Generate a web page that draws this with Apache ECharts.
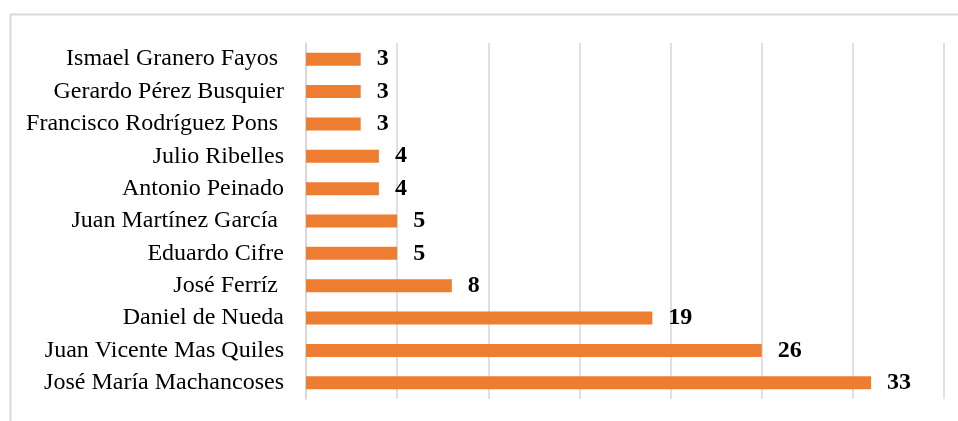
<!DOCTYPE html>
<html>
<head>
<meta charset="utf-8">
<script src="https://cdn.jsdelivr.net/npm/echarts@6/dist/echarts.min.js"></script>
<style>
  html, body { margin: 0; padding: 0; background: #fff; }
  #chart { width: 958px; height: 421px; }
</style>
</head>
<body>
<div id="chart"></div>
<script>
// top to bottom
var categories = [
    'Ismael Granero Fayos ',
    'Gerardo Pérez Busquier',
    'Francisco Rodríguez Pons ',
    'Julio Ribelles',
    'Antonio Peinado',
    'Juan Martínez García ',
    'Eduardo Cifre',
    'José Ferríz ',
    'Daniel de Nueda',
    'Juan Vicente Mas Quiles',
    'José María Machancoses'
];
// bar lengths as drawn against the gridlines
var barValues = [3, 3, 3, 4, 4, 5, 5, 8, 19, 25, 31];
// numbers printed next to the bars
var labelValues = [3, 3, 3, 4, 4, 5, 5, 8, 19, 26, 33];
var axisTicks = { min: 0, max: 35, interval: 5 };

var chart = echarts.init(document.getElementById('chart'));
var option = {
    animation: false,
    graphic: [{
        type: 'rect',
        shape: { x: 10.5, y: 14.5, width: 1200, height: 1200 },
        style: { fill: 'none', stroke: '#d9d9d9', lineWidth: 2 },
        silent: true
    }],
    grid: { left: 306, right: 14, top: 43, bottom: 22 },
    xAxis: {
        type: 'value',
        min: axisTicks.min,
        max: axisTicks.max,
        interval: axisTicks.interval,
        axisLabel: { show: false },
        axisLine: { show: false },
        axisTick: { show: false },
        splitLine: { lineStyle: { color: '#d6d6d6', width: 1.5 } }
    },
    yAxis: {
        type: 'category',
        inverse: true,
        data: categories,
        axisLine: { lineStyle: { color: '#d6d6d6', width: 1.5 } },
        axisTick: { show: false },
        axisLabel: {
            margin: 22,
            color: '#000',
            fontFamily: '"Liberation Serif", "Times New Roman", serif',
            fontSize: 24
        }
    },
    series: [{
        type: 'bar',
        data: barValues,
        barWidth: 13,
        itemStyle: { color: '#ED7D31' },
        label: {
            show: true,
            position: 'right',
            distance: 16,
            color: '#000',
            fontWeight: 'bold',
            fontFamily: '"Liberation Serif", "Times New Roman", serif',
            fontSize: 24,
            formatter: function (p) { return labelValues[p.dataIndex]; }
        }
    }]
};
chart.setOption(option, true);
</script>
</body>
</html>
